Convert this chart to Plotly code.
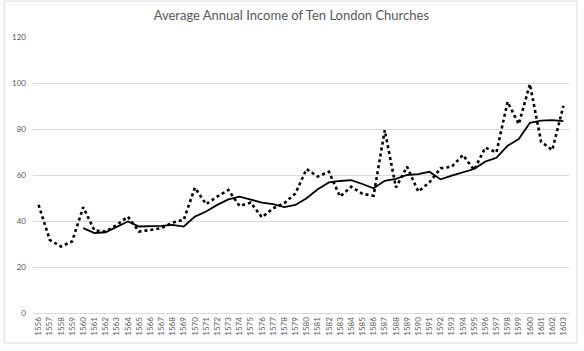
import plotly.graph_objects as go

years = [str(y) for y in range(1556, 1604)]
annual_income = [47.0, 31.8, 28.9, 31.1, 46.0, 35.9, 35.4, 38.3, 41.9, 35.4,
                 36.1, 36.9, 39.3, 40.5, 54.5, 47.3, 50.6, 53.5, 46.5, 48.0,
                 41.6, 45.5, 47.7, 52.0, 62.6, 59.3, 61.4, 50.6, 54.9, 51.8,
                 51.0, 79.5, 54.6, 63.6, 52.8, 56.8, 62.9, 63.6, 68.7, 62.2,
                 71.9, 69.8, 91.8, 82.1, 99.5, 74.5, 70.8, 90.1]
avg_years = years[4:]
moving_avg = [36.9, 34.7, 35.1, 37.6, 39.8, 37.6, 37.6, 37.9, 38.3, 37.6,
              41.9, 44.1, 47.0, 49.4, 50.6, 49.2, 48.0, 47.3, 46.0, 47.0,
              49.9, 53.8, 56.8, 57.4, 57.8, 56.1, 54.2, 57.5, 58.3, 60.0,
              60.4, 61.4, 58.1, 59.7, 61.0, 62.6, 65.8, 67.5, 72.7, 75.6,
              82.7, 83.6, 83.9, 83.4]
y_ticks = [0, 20, 40, 60, 80, 100, 120]

fig = go.Figure()
fig.add_trace(go.Scatter(x=years, y=annual_income, mode="lines",
                         line=dict(color="black", width=2.6, dash="dot"),
                         showlegend=False))
fig.add_trace(go.Scatter(x=avg_years, y=moving_avg, mode="lines",
                         line=dict(color="black", width=1.8),
                         showlegend=False))

fig.update_layout(
    width=584, height=351,
    margin=dict(l=30, r=15, t=37, b=38),
    paper_bgcolor="white", plot_bgcolor="white",
    font=dict(family="Lato, Carlito, Calibri, sans-serif", color="#595959"),
    title=dict(text="Average Annual Income of Ten London Churches",
               x=0.482, xref="paper", xanchor="center",
               y=1 - 15 / 351, yref="container", yanchor="middle",
               font=dict(size=13, color="#595959")),
    xaxis=dict(type="category", categoryorder="array", categoryarray=years,
               range=[-0.5, len(years) - 0.5], tickangle=-90,
               tickfont=dict(size=8, color="#595959"),
               showgrid=False, showline=True, linecolor="#d9d9d9",
               ticks="", ticklen=0),
    yaxis=dict(range=[0, 120], tickvals=y_ticks, showgrid=True,
               gridcolor="#d9d9d9", gridwidth=1, zeroline=False,
               tickfont=dict(size=8, color="#595959"), ticks="",
               ticklabelstandoff=6, showline=False),
    shapes=[dict(type="rect", xref="paper", yref="paper",
                 x0=-0.0538, x1=1.0148, y0=-0.1087, y1=1.13,
                 line=dict(color="#d9d9d9", width=1), layer="below")],
)
fig.write_html("out.html")
